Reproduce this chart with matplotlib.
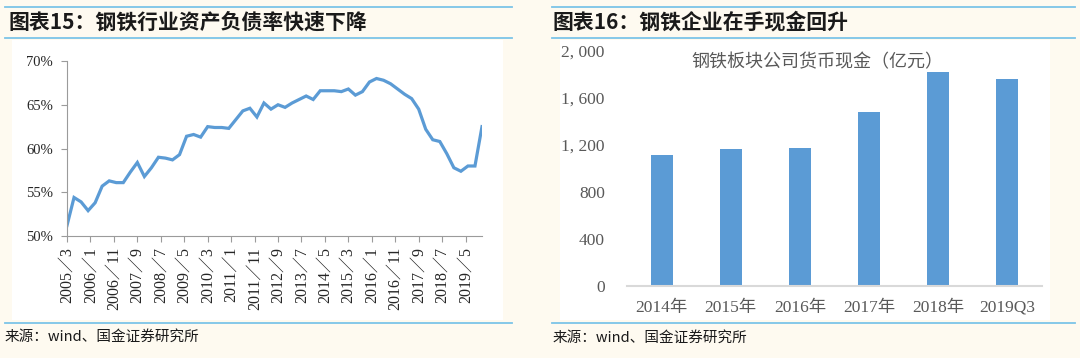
import numpy as np
import matplotlib.pyplot as plt
from matplotlib.patches import Rectangle
from matplotlib.lines import Line2D

plt.rcParams['font.family'] = ['Liberation Serif', 'Noto Sans CJK SC']

# 钢铁行业资产负债率 (quarterly, from 2005/3)
debt_ratio = [51.2, 54.4, 53.9, 52.9, 53.8, 55.7, 56.3, 56.1, 56.1, 57.3,
              58.4, 56.8, 57.8, 59.0, 58.9, 58.7, 59.3, 61.4, 61.6, 61.3,
              62.5, 62.4, 62.4, 62.3, 63.3, 64.3, 64.6, 63.6, 65.2, 64.5,
              65.0, 64.7, 65.2, 65.6, 66.0, 65.6, 66.6, 66.6, 66.6, 66.5,
              66.8, 66.1, 66.5, 67.6, 68.0, 67.8, 67.4, 66.8, 66.2, 65.7,
              64.5, 62.2, 61.0, 60.8, 59.4, 57.8, 57.4, 58.0, 58.0, 62.5]
month_offset = np.arange(len(debt_ratio)) * 3
date_ticks = np.arange(0, 171, 10)
date_labels = ["2005／3", "2006／1", "2006／11", "2007／9", "2008／7", "2009／5",
               "2010／3", "2011／1", "2011／11", "2012／9", "2013／7", "2014／5",
               "2015／3", "2016／1", "2016／11", "2017／9", "2018／7", "2019／5"]
pct_ticks = [50, 55, 60, 65, 70]
pct_labels = ["50%", "55%", "60%", "65%", "70%"]

# 钢铁板块公司货币现金（亿元）
years = ["2014年", "2015年", "2016年", "2017年", "2018年", "2019Q3"]
cash = [1115, 1166, 1174, 1484, 1824, 1759]
cash_ticks = [0, 400, 800, 1200, 1600, 2000]
cash_labels = ["0", "400", "800", "1, 200", "1, 600", "2, 000"]

W, H = 1080, 358
cream = "#FEFAF0"
blue = "#5B9BD5"
sep = "#7CC4E8"
cjk = ["Noto Sans CJK SC", "DejaVu Sans"]


def box(x0, y0, x1, y1):
    return [x0 / W, 1 - y1 / H, (x1 - x0) / W, (y1 - y0) / H]


fig = plt.figure(figsize=(W / 100, H / 100), dpi=100, facecolor=cream)

# white panels
for x0, x1 in [(12, 503), (560, 1050)]:
    fig.add_artist(Rectangle((x0 / W, 1 - 320 / H), (x1 - x0) / W, 280 / H,
                             transform=fig.transFigure, facecolor="white",
                             edgecolor="none", zorder=0))

# separator lines
for x0, x1 in [(5, 512), (552, 1075)]:
    for y in [7, 38, 323]:
        fig.add_artist(Line2D([x0 / W, x1 / W], [1 - y / H, 1 - y / H],
                              transform=fig.transFigure, color=sep, lw=1.3))

fig.text(8 / W, 1 - 22 / H, "图表15：钢铁行业资产负债率快速下降", family=cjk,
         fontsize=15, weight="bold", style="italic", va="center", color="#1a1a1a")
fig.text(553 / W, 1 - 22 / H, "图表16：钢铁企业在手现金回升", family=cjk,
         fontsize=15, weight="bold", style="italic", va="center", color="#1a1a1a")
fig.text(5 / W, 1 - 337 / H, "来源：wind、国金证券研究所", family=cjk,
         fontsize=10.5, va="center", color="#1a1a1a")
fig.text(553 / W, 1 - 338 / H, "来源：wind、国金证券研究所", family=cjk,
         fontsize=10.5, va="center", color="#1a1a1a")

# left: line chart
ax1 = fig.add_axes(box(67, 61, 482, 236))
ax1.set_facecolor("none")
ax1.plot(month_offset, debt_ratio, color=blue, lw=2.3, solid_joinstyle="miter")
ax1.set_xlim(0, month_offset[-1])
ax1.set_ylim(50, 70)
ax1.set_yticks(pct_ticks, pct_labels)
ax1.set_xticks(date_ticks, date_labels, rotation=90)
for s in ["top", "right"]:
    ax1.spines[s].set_visible(False)
for s in ["left", "bottom"]:
    ax1.spines[s].set_color("#9B9B9B")
ax1.tick_params(direction="out", length=4, color="#9B9B9B", labelsize=10.5,
                labelcolor="#262626")
ax1.tick_params(axis="y", pad=6)
ax1.tick_params(axis="x", pad=4, labelsize=11.5)

# right: bar chart
ax2 = fig.add_axes(box(627, 51, 1042, 286))
ax2.set_facecolor("none")
ax2.bar(range(len(cash)), cash, width=0.32, color=blue)
ax2.set_xlim(-0.5, len(cash) - 0.5)
ax2.set_ylim(0, 2000)
ax2.set_yticks(cash_ticks, cash_labels)
ax2.set_xticks(range(len(years)), years)
for s in ["top", "right", "left"]:
    ax2.spines[s].set_visible(False)
ax2.spines["bottom"].set_color("#D9D9D9")
ax2.spines["bottom"].set_linewidth(1.5)
ax2.tick_params(length=0, labelsize=12.5, labelcolor="#595959")
ax2.tick_params(axis="y", pad=16)
ax2.tick_params(axis="x", pad=10)
fig.text(817 / W, 1 - 62 / H, "钢铁板块公司货币现金（亿元）", family=cjk,
         fontsize=13, ha="center", va="center", color="#595959")

fig.savefig("out.png", dpi=100, facecolor=cream)
